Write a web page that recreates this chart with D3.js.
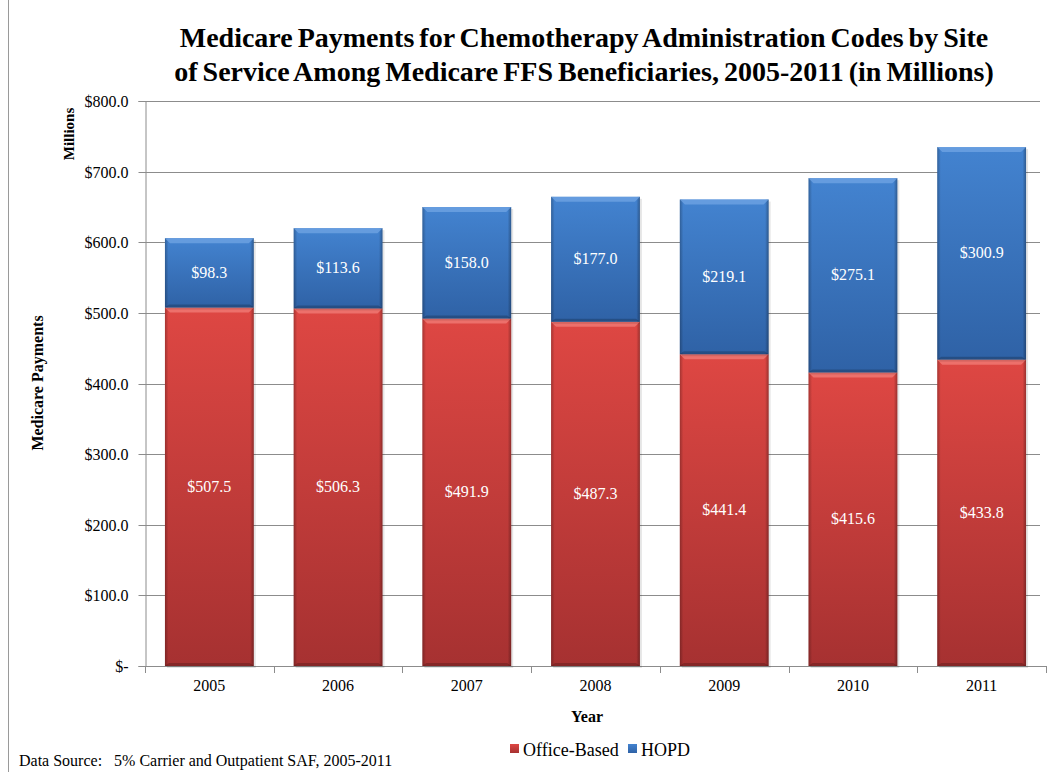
<!DOCTYPE html>
<html><head><meta charset="utf-8">
<script src="https://cdn.jsdelivr.net/npm/d3@7"></script>
<style>body{margin:0;background:#fff;}svg{display:block;font-family:"Liberation Serif","Times New Roman",serif;}</style>
</head><body>
<svg id="c" width="1052" height="772"></svg>
<script>
const years = ["2005","2006","2007","2008","2009","2010","2011"];
const officeBased = [507.5, 506.3, 491.9, 487.3, 441.4, 415.6, 433.8];
const hopd = [98.3, 113.6, 158.0, 177.0, 219.1, 275.1, 300.9];
const yTicks = [0,100,200,300,400,500,600,700,800];
const seriesNames = ["Office-Based","HOPD"];

const svg = d3.select("#c");
const W=1052,H=772;
const m={l:145,r:1046,t:101,b:666};
const x = d3.scaleBand().domain(years).range([m.l,m.r]).paddingInner(0.31).paddingOuter(0.155);
const y = d3.scaleLinear().domain([0,800]).range([m.b,m.t]);

const defs = svg.append("defs");
function grad(id, top, bot){
  const g=defs.append("linearGradient").attr("id",id).attr("x1",0).attr("y1",0).attr("x2",0).attr("y2",1);
  g.append("stop").attr("offset","0").attr("stop-color",top);
  g.append("stop").attr("offset","1").attr("stop-color",bot);
}
grad("gRed","#de4743","#a63131");
grad("gBlue","#4383d0","#2f62a6");
const side=defs.append("linearGradient").attr("id","gSide").attr("x1",0).attr("y1",0).attr("x2",1).attr("y2",0);
[[0,0.25],[0.04,0],[0.96,0],[1,0.3]].forEach(([o,a])=>side.append("stop").attr("offset",o).attr("stop-color","#000").attr("stop-opacity",a));

// left border line
svg.append("line").attr("x1",8.5).attr("x2",8.5).attr("y1",0).attr("y2",H).attr("stroke","#9a9a9a").attr("stroke-width",1);

// gridlines
svg.append("g").selectAll("line").data(yTicks.filter(d=>d>0)).join("line")
  .attr("x1",m.l).attr("x2",1040).attr("y1",d=>Math.round(y(d))+0.5).attr("y2",d=>Math.round(y(d))+0.5)
  .attr("stroke","#8c8c8c").attr("stroke-width",1);

// y axis
const ya = svg.append("g").attr("transform",`translate(${m.l+0.5},0)`)
  .call(d3.axisLeft(y).tickValues(yTicks).tickSize(7).tickPadding(10).tickFormat(d=>d===0?"$-":"$"+d3.format(".1f")(d)));
ya.select(".domain").attr("stroke","#8c8c8c");
ya.selectAll(".tick line").attr("stroke","#8c8c8c");
ya.selectAll("text").attr("font-size",16).attr("font-family","Liberation Serif").attr("fill","#000");
ya.selectAll(".tick").attr("transform",d=>`translate(0,${Math.round(y(d))+0.5})`);

// x axis
const xa = svg.append("g").attr("transform",`translate(0,${m.b+0.5})`)
  .call(d3.axisBottom(x).tickSize(0).tickPadding(13));
xa.select(".domain").attr("stroke","#8c8c8c").attr("d",`M${m.l},0H${m.r}`);
xa.selectAll("text").attr("font-size",16).attr("font-family","Liberation Serif").attr("fill","#000");
// category boundary ticks
const step = x.step();
svg.append("g").selectAll("line").data(d3.range(years.length+1)).join("line")
  .attr("x1",i=>Math.round(m.l+i*step)+0.5).attr("x2",i=>Math.round(m.l+i*step)+0.5)
  .attr("y1",m.b).attr("y2",m.b+7).attr("stroke","#8c8c8c");

// bars
const data = years.map((yr,i)=>({yr, ob:officeBased[i], hp:hopd[i]}));
const bw = x.bandwidth();
const gBars = svg.append("g");
data.forEach(d=>{
  const x0 = x(d.yr);
  const segs = [
    {y0:0,y1:d.ob,fill:"url(#gRed)",hl:"#f07a76",v:d.ob},
    {y0:d.ob,y1:d.ob+d.hp,fill:"url(#gBlue)",hl:"#6ea2e2",v:d.hp}
  ];
  segs.forEach(s=>{
    const yt=y(s.y1), yb=y(s.y0);
    gBars.append("rect").attr("x",x0+2).attr("y",yt+2).attr("width",bw).attr("height",yb-yt).attr("fill","#000").attr("opacity",0.1);
    gBars.append("rect").attr("x",x0).attr("y",yt).attr("width",bw).attr("height",yb-yt).attr("fill",s.fill);
    gBars.append("rect").attr("x",x0).attr("y",yt).attr("width",bw).attr("height",yb-yt).attr("fill","url(#gSide)");
    gBars.append("path").attr("d",`M${x0},${yt}H${x0+bw}L${x0+bw-5},${yt+5}H${x0+5}Z`).attr("fill",s.hl).attr("opacity",0.8);
    gBars.append("path").attr("d",`M${x0},${yb}H${x0+bw}L${x0+bw-4},${yb-3}H${x0+4}Z`).attr("fill","#000").attr("opacity",0.2);
    gBars.append("text").attr("x",x0+bw/2).attr("y",(yt+yb)/2+5).attr("text-anchor","middle")
      .attr("font-size",16).attr("fill","#fff").text("$"+d3.format(".1f")(s.v));
  });
});

// title
const title = svg.append("text").attr("text-anchor","middle").attr("font-weight","bold").attr("font-size",28).attr("fill","#000").attr("word-spacing",-2);
title.append("tspan").attr("x",584).attr("y",47).text("Medicare Payments for Chemotherapy Administration Codes by Site");
title.append("tspan").attr("x",584).attr("y",81).text("of Service Among Medicare FFS Beneficiaries, 2005-2011 (in Millions)");

// axis titles
svg.append("text").attr("transform","translate(74,134) rotate(-90)").attr("text-anchor","middle")
  .attr("font-weight","bold").attr("font-size",15).text("Millions");
svg.append("text").attr("transform","translate(43,383) rotate(-90)").attr("text-anchor","middle")
  .attr("font-weight","bold").attr("font-size",16).text("Medicare Payments");
svg.append("text").attr("x",587).attr("y",722).attr("text-anchor","middle")
  .attr("font-weight","bold").attr("font-size",16).text("Year");

// legend
const legX=[510,628];
seriesNames.forEach((n,i)=>{
  const g=svg.append("g").attr("transform",`translate(${legX[i]},${744})`);
  g.append("rect").attr("width",9).attr("height",9).attr("fill",i===0?"url(#gRed)":"url(#gBlue)");
  g.append("text").attr("x",13).attr("y",12).attr("font-size",18).text(n);
});

svg.append("text").attr("x",19).attr("y",766).attr("font-size",16).attr("xml:space","preserve").text("Data Source:   5% Carrier and Outpatient SAF, 2005-2011");
</script>
</body></html>
